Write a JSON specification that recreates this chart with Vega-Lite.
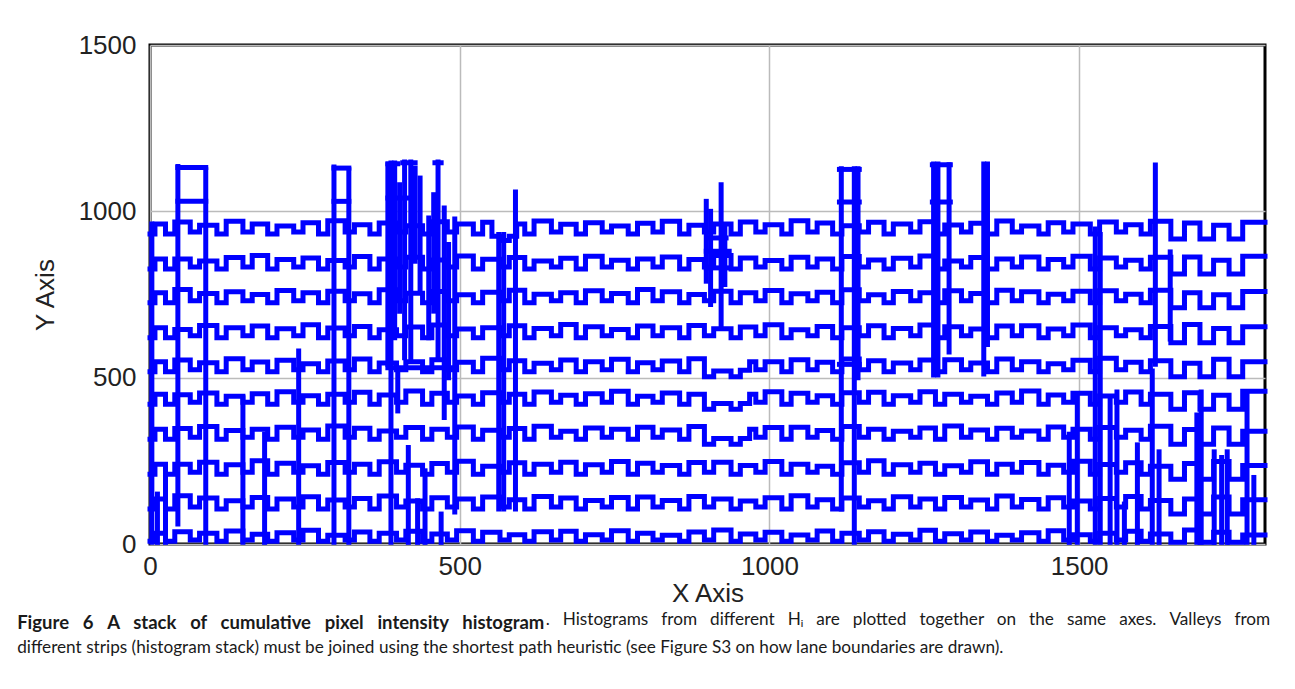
{
"$schema": "https://vega.github.io/schema/vega-lite/v6.json",
"background": "white",
"padding": {"left": 15, "top": 30, "right": 5, "bottom": 5},
"config": {
 "view": {"stroke": "#000000", "strokeWidth": 3},
 "axis": {"domain": false, "ticks": false, "labelFont": "Liberation Sans", "labelFontSize": 26, "labelColor": "#222222", "titleFont": "Liberation Sans Narrow, Liberation Sans", "titleFontSize": 26, "titleFontWeight": "normal", "titleColor": "#222222", "gridColor": "#bbbbbb", "gridWidth": 1.5, "labelFlush": false, "labelOverlap": false}
},
"title": {"text": ". \u2002Histograms \u2002from \u2002different \u2002Hᵢ \u2002are \u2002plotted \u2002together \u2002on \u2002the \u2002same \u2002axes. \u2002Valleys \u2002from", "orient": "bottom", "anchor": "start", "frame": "bounds", "dx": 530, "dy": -46, "offset": 0, "font": "Lato", "fontSize": 17.2, "fontWeight": "normal", "color": "#1a1a1a"},
"datasets": {
"s1": [{"x":0,"y":932},{"x":8,"y":962},{"x":25,"y":932},{"x":40,"y":968},{"x":65,"y":938},{"x":80,"y":958},{"x":108,"y":932},{"x":123,"y":970},{"x":150,"y":938},{"x":165,"y":962},{"x":190,"y":932},{"x":205,"y":956},{"x":232,"y":938},{"x":247,"y":966},{"x":272,"y":932},{"x":287,"y":972},{"x":315,"y":938},{"x":330,"y":960},{"x":355,"y":932},{"x":370,"y":965},{"x":398,"y":938},{"x":413,"y":957},{"x":440,"y":932},{"x":455,"y":969},{"x":480,"y":938},{"x":495,"y":962},{"x":522,"y":932},{"x":537,"y":967},{"x":552,"y":925},{"x":565,"y":912},{"x":580,"y":925},{"x":592,"y":962},{"x":605,"y":932},{"x":620,"y":971},{"x":648,"y":938},{"x":663,"y":961},{"x":688,"y":932},{"x":703,"y":966},{"x":730,"y":938},{"x":745,"y":956},{"x":772,"y":932},{"x":787,"y":964},{"x":812,"y":938},{"x":827,"y":970},{"x":855,"y":932},{"x":870,"y":958},{"x":895,"y":938},{"x":910,"y":962},{"x":938,"y":932},{"x":953,"y":968},{"x":978,"y":938},{"x":993,"y":960},{"x":1020,"y":932},{"x":1035,"y":972},{"x":1062,"y":938},{"x":1077,"y":965},{"x":1102,"y":932},{"x":1117,"y":957},{"x":1145,"y":938},{"x":1160,"y":967},{"x":1185,"y":932},{"x":1200,"y":962},{"x":1228,"y":938},{"x":1243,"y":969},{"x":1268,"y":932},{"x":1283,"y":959},{"x":1310,"y":938},{"x":1325,"y":964},{"x":1352,"y":932},{"x":1367,"y":971},{"x":1392,"y":938},{"x":1407,"y":956},{"x":1435,"y":932},{"x":1450,"y":966},{"x":1475,"y":938},{"x":1490,"y":962},{"x":1518,"y":932},{"x":1533,"y":968},{"x":1560,"y":938},{"x":1575,"y":960},{"x":1600,"y":932},{"x":1615,"y":970},{"x":1648,"y":917},{"x":1670,"y":965},{"x":1695,"y":917},{"x":1717,"y":958},{"x":1742,"y":917},{"x":1764,"y":967},{"x":1800,"y":967}],
"s2": [{"x":0,"y":827},{"x":8,"y":857},{"x":25,"y":827},{"x":40,"y":857},{"x":65,"y":833},{"x":80,"y":851},{"x":108,"y":827},{"x":123,"y":861},{"x":150,"y":833},{"x":165,"y":867},{"x":190,"y":827},{"x":205,"y":855},{"x":232,"y":833},{"x":247,"y":860},{"x":272,"y":827},{"x":287,"y":852},{"x":315,"y":833},{"x":330,"y":864},{"x":355,"y":827},{"x":370,"y":857},{"x":398,"y":833},{"x":413,"y":862},{"x":440,"y":827},{"x":455,"y":854},{"x":480,"y":833},{"x":495,"y":866},{"x":522,"y":827},{"x":537,"y":856},{"x":565,"y":833},{"x":580,"y":861},{"x":605,"y":827},{"x":620,"y":851},{"x":648,"y":833},{"x":663,"y":859},{"x":688,"y":827},{"x":703,"y":865},{"x":730,"y":833},{"x":745,"y":853},{"x":772,"y":827},{"x":787,"y":857},{"x":812,"y":833},{"x":827,"y":863},{"x":855,"y":827},{"x":870,"y":855},{"x":895,"y":833},{"x":910,"y":867},{"x":938,"y":827},{"x":953,"y":860},{"x":978,"y":833},{"x":993,"y":852},{"x":1020,"y":827},{"x":1035,"y":862},{"x":1062,"y":833},{"x":1077,"y":857},{"x":1102,"y":827},{"x":1117,"y":864},{"x":1145,"y":833},{"x":1160,"y":854},{"x":1185,"y":827},{"x":1200,"y":859},{"x":1228,"y":833},{"x":1243,"y":866},{"x":1268,"y":827},{"x":1283,"y":851},{"x":1310,"y":833},{"x":1325,"y":861},{"x":1352,"y":827},{"x":1367,"y":857},{"x":1392,"y":833},{"x":1407,"y":863},{"x":1435,"y":827},{"x":1450,"y":855},{"x":1475,"y":833},{"x":1490,"y":865},{"x":1518,"y":827},{"x":1533,"y":860},{"x":1560,"y":833},{"x":1575,"y":853},{"x":1600,"y":827},{"x":1615,"y":862},{"x":1648,"y":812},{"x":1670,"y":863},{"x":1695,"y":812},{"x":1717,"y":853},{"x":1742,"y":812},{"x":1764,"y":865},{"x":1800,"y":865}],
"s3": [{"x":0,"y":725},{"x":8,"y":755},{"x":25,"y":725},{"x":40,"y":765},{"x":65,"y":731},{"x":80,"y":753},{"x":108,"y":725},{"x":123,"y":758},{"x":150,"y":731},{"x":165,"y":750},{"x":190,"y":725},{"x":205,"y":762},{"x":232,"y":731},{"x":247,"y":755},{"x":272,"y":725},{"x":287,"y":760},{"x":315,"y":731},{"x":330,"y":752},{"x":355,"y":725},{"x":370,"y":764},{"x":398,"y":731},{"x":413,"y":754},{"x":440,"y":725},{"x":455,"y":759},{"x":480,"y":731},{"x":495,"y":749},{"x":522,"y":725},{"x":537,"y":757},{"x":565,"y":731},{"x":580,"y":763},{"x":605,"y":725},{"x":620,"y":751},{"x":648,"y":731},{"x":663,"y":755},{"x":688,"y":725},{"x":703,"y":761},{"x":730,"y":731},{"x":745,"y":753},{"x":772,"y":725},{"x":787,"y":765},{"x":812,"y":731},{"x":827,"y":758},{"x":855,"y":725},{"x":870,"y":750},{"x":895,"y":731},{"x":910,"y":760},{"x":938,"y":725},{"x":953,"y":755},{"x":978,"y":731},{"x":993,"y":762},{"x":1020,"y":725},{"x":1035,"y":752},{"x":1062,"y":731},{"x":1077,"y":757},{"x":1102,"y":725},{"x":1117,"y":764},{"x":1145,"y":731},{"x":1160,"y":749},{"x":1185,"y":725},{"x":1200,"y":759},{"x":1228,"y":731},{"x":1243,"y":755},{"x":1268,"y":725},{"x":1283,"y":761},{"x":1310,"y":731},{"x":1325,"y":753},{"x":1352,"y":725},{"x":1367,"y":763},{"x":1392,"y":731},{"x":1407,"y":758},{"x":1435,"y":725},{"x":1450,"y":751},{"x":1475,"y":731},{"x":1490,"y":760},{"x":1518,"y":725},{"x":1533,"y":761},{"x":1560,"y":731},{"x":1575,"y":751},{"x":1600,"y":725},{"x":1615,"y":763},{"x":1648,"y":710},{"x":1670,"y":755},{"x":1695,"y":710},{"x":1717,"y":749},{"x":1742,"y":710},{"x":1764,"y":759},{"x":1800,"y":759}],
"s4": [{"x":0,"y":620},{"x":8,"y":650},{"x":25,"y":620},{"x":40,"y":645},{"x":65,"y":626},{"x":80,"y":657},{"x":108,"y":620},{"x":123,"y":650},{"x":150,"y":626},{"x":165,"y":655},{"x":190,"y":620},{"x":205,"y":647},{"x":232,"y":626},{"x":247,"y":659},{"x":272,"y":620},{"x":287,"y":649},{"x":315,"y":626},{"x":330,"y":654},{"x":355,"y":620},{"x":370,"y":644},{"x":398,"y":626},{"x":413,"y":652},{"x":440,"y":620},{"x":455,"y":658},{"x":480,"y":626},{"x":495,"y":646},{"x":522,"y":620},{"x":537,"y":650},{"x":565,"y":626},{"x":580,"y":656},{"x":605,"y":620},{"x":620,"y":648},{"x":648,"y":626},{"x":663,"y":660},{"x":688,"y":620},{"x":703,"y":653},{"x":730,"y":626},{"x":745,"y":645},{"x":772,"y":620},{"x":787,"y":655},{"x":812,"y":626},{"x":827,"y":650},{"x":855,"y":620},{"x":870,"y":657},{"x":895,"y":626},{"x":910,"y":647},{"x":938,"y":620},{"x":953,"y":652},{"x":978,"y":626},{"x":993,"y":659},{"x":1020,"y":620},{"x":1035,"y":644},{"x":1062,"y":626},{"x":1077,"y":654},{"x":1102,"y":620},{"x":1117,"y":650},{"x":1145,"y":626},{"x":1160,"y":656},{"x":1185,"y":620},{"x":1200,"y":648},{"x":1228,"y":626},{"x":1243,"y":658},{"x":1268,"y":620},{"x":1283,"y":653},{"x":1310,"y":626},{"x":1325,"y":646},{"x":1352,"y":620},{"x":1367,"y":655},{"x":1392,"y":626},{"x":1407,"y":656},{"x":1435,"y":620},{"x":1450,"y":646},{"x":1475,"y":626},{"x":1490,"y":658},{"x":1518,"y":620},{"x":1533,"y":650},{"x":1560,"y":626},{"x":1575,"y":644},{"x":1600,"y":620},{"x":1615,"y":654},{"x":1648,"y":605},{"x":1670,"y":660},{"x":1695,"y":605},{"x":1717,"y":648},{"x":1742,"y":605},{"x":1764,"y":653},{"x":1800,"y":653}],
"s5": [{"x":0,"y":518},{"x":8,"y":548},{"x":25,"y":518},{"x":40,"y":553},{"x":65,"y":524},{"x":80,"y":545},{"x":108,"y":518},{"x":123,"y":557},{"x":150,"y":524},{"x":165,"y":547},{"x":190,"y":518},{"x":205,"y":552},{"x":232,"y":524},{"x":247,"y":542},{"x":272,"y":518},{"x":287,"y":550},{"x":315,"y":524},{"x":330,"y":556},{"x":355,"y":518},{"x":370,"y":544},{"x":398,"y":524},{"x":413,"y":548},{"x":440,"y":518},{"x":455,"y":554},{"x":480,"y":524},{"x":495,"y":546},{"x":522,"y":518},{"x":537,"y":558},{"x":565,"y":524},{"x":580,"y":551},{"x":605,"y":518},{"x":620,"y":543},{"x":648,"y":524},{"x":663,"y":553},{"x":688,"y":518},{"x":703,"y":548},{"x":730,"y":524},{"x":745,"y":555},{"x":772,"y":518},{"x":787,"y":545},{"x":812,"y":524},{"x":827,"y":550},{"x":855,"y":518},{"x":870,"y":557},{"x":895,"y":503},{"x":910,"y":520},{"x":938,"y":503},{"x":953,"y":522},{"x":968,"y":548},{"x":978,"y":524},{"x":993,"y":548},{"x":1020,"y":518},{"x":1035,"y":554},{"x":1062,"y":524},{"x":1077,"y":546},{"x":1102,"y":518},{"x":1117,"y":556},{"x":1145,"y":524},{"x":1160,"y":551},{"x":1185,"y":518},{"x":1200,"y":544},{"x":1228,"y":524},{"x":1243,"y":553},{"x":1268,"y":518},{"x":1283,"y":554},{"x":1310,"y":524},{"x":1325,"y":544},{"x":1352,"y":518},{"x":1367,"y":556},{"x":1392,"y":524},{"x":1407,"y":548},{"x":1435,"y":518},{"x":1450,"y":542},{"x":1475,"y":524},{"x":1490,"y":552},{"x":1518,"y":518},{"x":1533,"y":558},{"x":1560,"y":524},{"x":1575,"y":546},{"x":1600,"y":518},{"x":1615,"y":551},{"x":1648,"y":503},{"x":1670,"y":543},{"x":1695,"y":503},{"x":1717,"y":555},{"x":1742,"y":503},{"x":1764,"y":548},{"x":1800,"y":548}],
"s6": [{"x":0,"y":420},{"x":8,"y":450},{"x":25,"y":420},{"x":40,"y":449},{"x":65,"y":426},{"x":80,"y":454},{"x":108,"y":420},{"x":123,"y":444},{"x":150,"y":426},{"x":165,"y":452},{"x":190,"y":420},{"x":205,"y":458},{"x":232,"y":426},{"x":247,"y":446},{"x":272,"y":420},{"x":287,"y":450},{"x":315,"y":426},{"x":330,"y":456},{"x":355,"y":420},{"x":370,"y":448},{"x":398,"y":426},{"x":413,"y":460},{"x":440,"y":420},{"x":455,"y":453},{"x":480,"y":426},{"x":495,"y":445},{"x":522,"y":420},{"x":537,"y":455},{"x":565,"y":426},{"x":580,"y":450},{"x":605,"y":420},{"x":620,"y":457},{"x":648,"y":426},{"x":663,"y":447},{"x":688,"y":420},{"x":703,"y":452},{"x":730,"y":426},{"x":745,"y":459},{"x":772,"y":420},{"x":787,"y":444},{"x":812,"y":426},{"x":827,"y":454},{"x":855,"y":420},{"x":870,"y":450},{"x":895,"y":405},{"x":910,"y":422},{"x":938,"y":405},{"x":953,"y":422},{"x":968,"y":450},{"x":978,"y":426},{"x":993,"y":458},{"x":1020,"y":420},{"x":1035,"y":453},{"x":1062,"y":426},{"x":1077,"y":446},{"x":1102,"y":420},{"x":1117,"y":455},{"x":1145,"y":426},{"x":1160,"y":456},{"x":1185,"y":420},{"x":1200,"y":446},{"x":1228,"y":426},{"x":1243,"y":458},{"x":1268,"y":420},{"x":1283,"y":450},{"x":1310,"y":426},{"x":1325,"y":444},{"x":1352,"y":420},{"x":1367,"y":454},{"x":1392,"y":426},{"x":1407,"y":460},{"x":1435,"y":420},{"x":1450,"y":448},{"x":1475,"y":426},{"x":1490,"y":453},{"x":1518,"y":420},{"x":1533,"y":445},{"x":1560,"y":426},{"x":1575,"y":457},{"x":1600,"y":420},{"x":1615,"y":450},{"x":1648,"y":405},{"x":1670,"y":455},{"x":1695,"y":405},{"x":1717,"y":447},{"x":1742,"y":405},{"x":1764,"y":459},{"x":1800,"y":459}],
"s7": [{"x":0,"y":315},{"x":8,"y":345},{"x":25,"y":315},{"x":40,"y":347},{"x":65,"y":321},{"x":80,"y":353},{"x":108,"y":315},{"x":123,"y":341},{"x":150,"y":321},{"x":165,"y":345},{"x":190,"y":315},{"x":205,"y":351},{"x":232,"y":321},{"x":247,"y":343},{"x":272,"y":315},{"x":287,"y":355},{"x":315,"y":321},{"x":330,"y":348},{"x":355,"y":315},{"x":370,"y":340},{"x":398,"y":321},{"x":413,"y":350},{"x":440,"y":315},{"x":455,"y":345},{"x":480,"y":321},{"x":495,"y":352},{"x":522,"y":315},{"x":537,"y":342},{"x":565,"y":321},{"x":580,"y":347},{"x":605,"y":315},{"x":620,"y":354},{"x":648,"y":321},{"x":663,"y":339},{"x":688,"y":315},{"x":703,"y":349},{"x":730,"y":321},{"x":745,"y":345},{"x":772,"y":315},{"x":787,"y":351},{"x":812,"y":321},{"x":827,"y":343},{"x":855,"y":315},{"x":870,"y":353},{"x":895,"y":300},{"x":910,"y":317},{"x":938,"y":300},{"x":953,"y":317},{"x":968,"y":345},{"x":978,"y":321},{"x":993,"y":350},{"x":1020,"y":315},{"x":1035,"y":351},{"x":1062,"y":321},{"x":1077,"y":341},{"x":1102,"y":315},{"x":1117,"y":353},{"x":1145,"y":321},{"x":1160,"y":345},{"x":1185,"y":315},{"x":1200,"y":339},{"x":1228,"y":321},{"x":1243,"y":349},{"x":1268,"y":315},{"x":1283,"y":355},{"x":1310,"y":321},{"x":1325,"y":343},{"x":1352,"y":315},{"x":1367,"y":348},{"x":1392,"y":321},{"x":1407,"y":340},{"x":1435,"y":315},{"x":1450,"y":352},{"x":1475,"y":321},{"x":1490,"y":345},{"x":1518,"y":315},{"x":1533,"y":350},{"x":1560,"y":321},{"x":1575,"y":342},{"x":1600,"y":315},{"x":1615,"y":354},{"x":1648,"y":300},{"x":1670,"y":344},{"x":1695,"y":300},{"x":1717,"y":349},{"x":1742,"y":300},{"x":1764,"y":339},{"x":1800,"y":339}],
"s8": [{"x":0,"y":210},{"x":8,"y":240},{"x":25,"y":210},{"x":40,"y":240},{"x":65,"y":216},{"x":80,"y":246},{"x":108,"y":210},{"x":123,"y":238},{"x":150,"y":216},{"x":165,"y":250},{"x":190,"y":210},{"x":205,"y":243},{"x":232,"y":216},{"x":247,"y":235},{"x":272,"y":210},{"x":287,"y":245},{"x":315,"y":216},{"x":330,"y":240},{"x":355,"y":210},{"x":370,"y":247},{"x":398,"y":216},{"x":413,"y":237},{"x":440,"y":210},{"x":455,"y":242},{"x":480,"y":216},{"x":495,"y":249},{"x":522,"y":210},{"x":537,"y":234},{"x":565,"y":216},{"x":580,"y":244},{"x":605,"y":210},{"x":620,"y":240},{"x":648,"y":216},{"x":663,"y":246},{"x":688,"y":210},{"x":703,"y":238},{"x":730,"y":216},{"x":745,"y":248},{"x":772,"y":210},{"x":787,"y":243},{"x":812,"y":216},{"x":827,"y":236},{"x":855,"y":210},{"x":870,"y":245},{"x":895,"y":216},{"x":910,"y":246},{"x":938,"y":210},{"x":953,"y":236},{"x":978,"y":216},{"x":993,"y":248},{"x":1020,"y":210},{"x":1035,"y":240},{"x":1062,"y":216},{"x":1077,"y":234},{"x":1102,"y":210},{"x":1117,"y":244},{"x":1145,"y":216},{"x":1160,"y":250},{"x":1185,"y":210},{"x":1200,"y":238},{"x":1228,"y":216},{"x":1243,"y":243},{"x":1268,"y":210},{"x":1283,"y":235},{"x":1310,"y":216},{"x":1325,"y":247},{"x":1352,"y":210},{"x":1367,"y":240},{"x":1392,"y":216},{"x":1407,"y":245},{"x":1435,"y":210},{"x":1450,"y":237},{"x":1475,"y":216},{"x":1490,"y":249},{"x":1518,"y":210},{"x":1533,"y":239},{"x":1560,"y":216},{"x":1575,"y":244},{"x":1600,"y":210},{"x":1615,"y":234},{"x":1648,"y":195},{"x":1670,"y":242},{"x":1695,"y":195},{"x":1717,"y":248},{"x":1742,"y":195},{"x":1764,"y":236},{"x":1800,"y":236}],
"s9": [{"x":0,"y":105},{"x":8,"y":135},{"x":25,"y":105},{"x":40,"y":145},{"x":65,"y":111},{"x":80,"y":138},{"x":108,"y":105},{"x":123,"y":130},{"x":150,"y":111},{"x":165,"y":140},{"x":190,"y":105},{"x":205,"y":135},{"x":232,"y":111},{"x":247,"y":142},{"x":272,"y":105},{"x":287,"y":132},{"x":315,"y":111},{"x":330,"y":137},{"x":355,"y":105},{"x":370,"y":144},{"x":398,"y":111},{"x":413,"y":129},{"x":440,"y":105},{"x":455,"y":139},{"x":480,"y":111},{"x":495,"y":135},{"x":522,"y":105},{"x":537,"y":141},{"x":565,"y":111},{"x":580,"y":133},{"x":605,"y":105},{"x":620,"y":143},{"x":648,"y":111},{"x":663,"y":138},{"x":688,"y":105},{"x":703,"y":131},{"x":730,"y":111},{"x":745,"y":140},{"x":772,"y":105},{"x":787,"y":141},{"x":812,"y":111},{"x":827,"y":131},{"x":855,"y":105},{"x":870,"y":143},{"x":895,"y":111},{"x":910,"y":135},{"x":938,"y":105},{"x":953,"y":129},{"x":978,"y":111},{"x":993,"y":139},{"x":1020,"y":105},{"x":1035,"y":145},{"x":1062,"y":111},{"x":1077,"y":133},{"x":1102,"y":105},{"x":1117,"y":138},{"x":1145,"y":111},{"x":1160,"y":130},{"x":1185,"y":105},{"x":1200,"y":142},{"x":1228,"y":111},{"x":1243,"y":135},{"x":1268,"y":105},{"x":1283,"y":140},{"x":1310,"y":111},{"x":1325,"y":132},{"x":1352,"y":105},{"x":1367,"y":144},{"x":1392,"y":111},{"x":1407,"y":134},{"x":1435,"y":105},{"x":1450,"y":139},{"x":1475,"y":111},{"x":1490,"y":129},{"x":1518,"y":105},{"x":1533,"y":137},{"x":1560,"y":111},{"x":1575,"y":143},{"x":1600,"y":105},{"x":1615,"y":131},{"x":1648,"y":90},{"x":1670,"y":135},{"x":1695,"y":90},{"x":1717,"y":141},{"x":1742,"y":90},{"x":1764,"y":133},{"x":1800,"y":133}],
"s10": [{"x":0,"y":8},{"x":8,"y":32},{"x":25,"y":8},{"x":40,"y":37},{"x":65,"y":12},{"x":80,"y":32},{"x":108,"y":8},{"x":123,"y":39},{"x":150,"y":12},{"x":165,"y":29},{"x":190,"y":8},{"x":205,"y":34},{"x":232,"y":12},{"x":247,"y":41},{"x":272,"y":8},{"x":287,"y":26},{"x":315,"y":12},{"x":330,"y":36},{"x":355,"y":8},{"x":370,"y":32},{"x":398,"y":12},{"x":413,"y":38},{"x":440,"y":8},{"x":455,"y":30},{"x":480,"y":12},{"x":495,"y":40},{"x":522,"y":8},{"x":537,"y":35},{"x":565,"y":12},{"x":580,"y":28},{"x":605,"y":8},{"x":620,"y":37},{"x":648,"y":12},{"x":663,"y":38},{"x":688,"y":8},{"x":703,"y":28},{"x":730,"y":12},{"x":745,"y":40},{"x":772,"y":8},{"x":787,"y":32},{"x":812,"y":12},{"x":827,"y":26},{"x":855,"y":8},{"x":870,"y":36},{"x":895,"y":12},{"x":910,"y":42},{"x":938,"y":8},{"x":953,"y":30},{"x":978,"y":12},{"x":993,"y":35},{"x":1020,"y":8},{"x":1035,"y":27},{"x":1062,"y":12},{"x":1077,"y":39},{"x":1102,"y":8},{"x":1117,"y":32},{"x":1145,"y":12},{"x":1160,"y":37},{"x":1185,"y":8},{"x":1200,"y":29},{"x":1228,"y":12},{"x":1243,"y":41},{"x":1268,"y":8},{"x":1283,"y":31},{"x":1310,"y":12},{"x":1325,"y":36},{"x":1352,"y":8},{"x":1367,"y":26},{"x":1392,"y":12},{"x":1407,"y":34},{"x":1435,"y":8},{"x":1450,"y":40},{"x":1475,"y":12},{"x":1490,"y":28},{"x":1518,"y":8},{"x":1533,"y":32},{"x":1560,"y":12},{"x":1575,"y":38},{"x":1600,"y":8},{"x":1615,"y":30},{"x":1648,"y":5},{"x":1670,"y":42},{"x":1695,"y":5},{"x":1717,"y":35},{"x":1742,"y":5},{"x":1764,"y":27},{"x":1800,"y":27}],
"v": [{"x":3,"y":5,"y2":962},{"x":12,"y":5,"y2":150},{"x":25,"y":5,"y2":230},{"x":45,"y":60,"y2":1135},{"x":90,"y":5,"y2":1125},{"x":150,"y":5,"y2":440},{"x":185,"y":5,"y2":330},{"x":240,"y":5,"y2":580},{"x":297,"y":5,"y2":1133},{"x":321,"y":5,"y2":1125},{"x":384,"y":540,"y2":1140},{"x":389,"y":5,"y2":1145},{"x":395,"y":620,"y2":1145},{"x":400,"y":400,"y2":520},{"x":403,"y":700,"y2":1080},{"x":411,"y":560,"y2":1148},{"x":417,"y":5,"y2":290},{"x":421,"y":560,"y2":1148},{"x":428,"y":850,"y2":1130},{"x":432,"y":5,"y2":130},{"x":436,"y":760,"y2":1100},{"x":444,"y":5,"y2":220},{"x":450,"y":620,"y2":980},{"x":458,"y":700,"y2":1050},{"x":465,"y":560,"y2":1148},{"x":470,"y":5,"y2":90},{"x":475,"y":380,"y2":1010},{"x":482,"y":500,"y2":900},{"x":492,"y":96,"y2":977},{"x":563,"y":105,"y2":930},{"x":571,"y":105,"y2":930},{"x":590,"y":105,"y2":1058},{"x":898,"y":790,"y2":1030},{"x":905,"y":720,"y2":1000},{"x":922,"y":660,"y2":1080},{"x":928,"y":780,"y2":960},{"x":1116,"y":105,"y2":1128},{"x":1137,"y":5,"y2":1128},{"x":1143,"y":500,"y2":1128},{"x":1265,"y":508,"y2":1142},{"x":1272,"y":508,"y2":1142},{"x":1290,"y":577,"y2":1140},{"x":1346,"y":511,"y2":1142},{"x":1352,"y":600,"y2":1142},{"x":1484,"y":5,"y2":330},{"x":1497,"y":5,"y2":448},{"x":1526,"y":5,"y2":947},{"x":1534,"y":5,"y2":930},{"x":1550,"y":5,"y2":440},{"x":1561,"y":5,"y2":457},{"x":1573,"y":5,"y2":120},{"x":1594,"y":5,"y2":298},{"x":1618,"y":5,"y2":520},{"x":1623,"y":540,"y2":1139},{"x":1629,"y":5,"y2":277},{"x":1647,"y":616,"y2":878},{"x":1690,"y":5,"y2":388},{"x":1697,"y":5,"y2":457},{"x":1718,"y":5,"y2":277},{"x":1730,"y":5,"y2":260},{"x":1739,"y":5,"y2":277},{"x":1771,"y":5,"y2":457},{"x":1782,"y":5,"y2":200}],
"h": [{"x":45,"x2":90,"y":1132},{"x":45,"x2":90,"y":1030},{"x":297,"x2":321,"y":1130},{"x":297,"x2":321,"y":1030},{"x":384,"x2":400,"y":1143},{"x":408,"x2":428,"y":1146},{"x":460,"x2":470,"y":1146},{"x":384,"x2":492,"y":530},{"x":384,"x2":420,"y":1040},{"x":898,"x2":935,"y":830},{"x":898,"x2":935,"y":880},{"x":900,"x2":930,"y":920},{"x":1113,"x2":1145,"y":1126},{"x":1113,"x2":1145,"y":1028},{"x":1113,"x2":1145,"y":540},{"x":1263,"x2":1292,"y":1140},{"x":1263,"x2":1292,"y":1028}]
},
"vconcat": [{
 "width": 1115,
 "height": 499,
 "title": {"text": "Figure \u20026 \u2002A \u2002stack \u2002of \u2002cumulative \u2002pixel \u2002intensity \u2002histogram", "subtitle": "different strips (histogram stack) must be joined using the shortest path heuristic (see Figure S3 on how lane boundaries are drawn).", "orient": "bottom", "anchor": "start", "frame": "bounds", "dx": -15, "offset": 8, "font": "Lato", "fontSize": 18.5, "fontWeight": "bold", "color": "#1a1a1a", "subtitleFont": "Lato", "subtitleFontSize": 17.2, "subtitleColor": "#1a1a1a", "subtitlePadding": 6},
 "encoding": {
  "x": {"field": "x", "type": "quantitative", "scale": {"domain": [0, 1800], "nice": false, "zero": false}, "axis": {"values": [0, 500, 1000, 1500], "format": "d", "title": "X Axis", "labelPadding": 9, "titlePadding": 1}},
  "y": {"field": "y", "type": "quantitative", "scale": {"domain": [0, 1500], "nice": false}, "axis": {"values": [0, 500, 1000, 1500], "format": "d", "title": "Y Axis", "labelPadding": 14, "titlePadding": 20}}
 },
 "layer": [
  {"data": {"name": "s1"}, "mark": {"type": "line", "interpolate": "step-after", "color": "#0000ff", "strokeWidth": 5, "strokeJoin": "miter", "strokeCap": "square"}},
  {"data": {"name": "s2"}, "mark": {"type": "line", "interpolate": "step-after", "color": "#0000ff", "strokeWidth": 5, "strokeJoin": "miter", "strokeCap": "square"}},
  {"data": {"name": "s3"}, "mark": {"type": "line", "interpolate": "step-after", "color": "#0000ff", "strokeWidth": 5, "strokeJoin": "miter", "strokeCap": "square"}},
  {"data": {"name": "s4"}, "mark": {"type": "line", "interpolate": "step-after", "color": "#0000ff", "strokeWidth": 5, "strokeJoin": "miter", "strokeCap": "square"}},
  {"data": {"name": "s5"}, "mark": {"type": "line", "interpolate": "step-after", "color": "#0000ff", "strokeWidth": 5, "strokeJoin": "miter", "strokeCap": "square"}},
  {"data": {"name": "s6"}, "mark": {"type": "line", "interpolate": "step-after", "color": "#0000ff", "strokeWidth": 5, "strokeJoin": "miter", "strokeCap": "square"}},
  {"data": {"name": "s7"}, "mark": {"type": "line", "interpolate": "step-after", "color": "#0000ff", "strokeWidth": 5, "strokeJoin": "miter", "strokeCap": "square"}},
  {"data": {"name": "s8"}, "mark": {"type": "line", "interpolate": "step-after", "color": "#0000ff", "strokeWidth": 5, "strokeJoin": "miter", "strokeCap": "square"}},
  {"data": {"name": "s9"}, "mark": {"type": "line", "interpolate": "step-after", "color": "#0000ff", "strokeWidth": 5, "strokeJoin": "miter", "strokeCap": "square"}},
  {"data": {"name": "s10"}, "mark": {"type": "line", "interpolate": "step-after", "color": "#0000ff", "strokeWidth": 5, "strokeJoin": "miter", "strokeCap": "square"}},
  {"data": {"name": "v"}, "mark": {"type": "rule", "color": "#0000ff", "strokeWidth": 5, "strokeCap": "square"}, "encoding": {"y2": {"field": "y2"}}},
  {"data": {"name": "h"}, "mark": {"type": "rule", "color": "#0000ff", "strokeWidth": 5, "strokeCap": "square"}, "encoding": {"x2": {"field": "x2"}}}
 ]
}]
}
